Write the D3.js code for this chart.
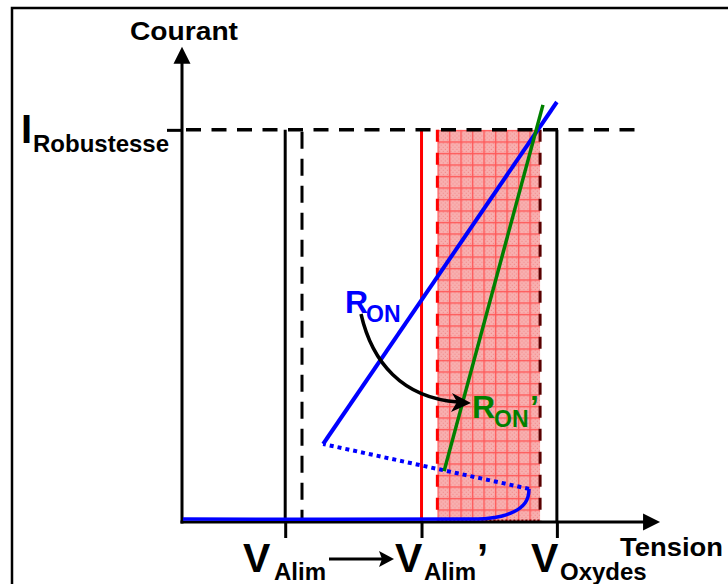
<!DOCTYPE html>
<html><head><meta charset="utf-8">
<script src="https://cdn.jsdelivr.net/npm/d3@7"></script>
<style>
html,body{margin:0;padding:0;background:#fff;}
svg{display:block;}
text{font-family:Arial,"Liberation Sans",sans-serif;font-weight:bold;}
</style>
</head><body>
<svg id="c" width="728" height="584"></svg>
<script>
// ---------- data (schematic units: 0..100) ----------
const axisTitles = ["Tension", "Courant"];
const axisMax = [99.6, 99];                       // arrow tips (tension, courant)
const levelNames  = ["VAlim", "VAlimMarge", "VAlimPrime", "ZoneMin", "ZoneMax", "VOxydes"];
const levelValues = [21.5, 25.0, 49.9, 53.2, 74.6, 78.1];
const tickNames   = ["VAlim", "VAlimPrime", "VOxydes"];
const currentNames  = ["IRobustesse"];
const currentValues = [81.7];
// R_ON characteristic (blue)
const ronV = [29.4, 78.1];
const ronI = [16.25, 87.5];
// R_ON' characteristic (green)
const ronPrimeV = [54.6, 75.2];
const ronPrimeI = [10.6, 86.9];
// snapback (dotted blue)
const snapV = [72.3, 29.4];
const snapI = [6.9, 16.25];
// leakage / breakdown curve (blue)
const leakV = [0.2, 60.0, 63.5, 66.5, 68.6, 70.4, 71.5, 72.1, 72.3];
const leakI = [0.62, 0.62, 0.75, 1.2, 1.9, 2.9, 4.0, 5.3, 6.9];
// label texts
const tickLabelMain = ["V", "V", "V"];
const tickLabelSub  = ["Alim", "Alim", "Oxydes"];
const tickLabelPrime = ["", "\u2019", ""];
const ronLabels = ["R", "ON", ""];
const ronPrimeLabels = ["R", "ON", "\u2019"];
const currentLabelMain = "I";
const currentLabelSub = "Robustesse";

// ---------- helpers ----------
const lv = n => levelValues[levelNames.indexOf(n)];
const svg = d3.select("#c");
const x = d3.scaleLinear().domain([0, 100]).range([182, 662]);
const y = d3.scaleLinear().domain([0, 100]).range([522, 42]);
const IR = currentValues[0];

// frame
svg.append("rect").attr("x", 12).attr("y", 8).attr("width", 740).attr("height", 620)
  .attr("fill", "none").attr("stroke", "#000").attr("stroke-width", 2.5);

// pattern for stressed zone
const defs = svg.append("defs");
const pat = defs.append("pattern").attr("id", "hatch").attr("patternUnits", "userSpaceOnUse")
  .attr("width", 11.5).attr("height", 11.5).attr("x", x(lv("ZoneMin"))).attr("y", y(IR));
pat.append("rect").attr("width", 11.5).attr("height", 11.5).attr("fill", "#f8b0b0");
for (let i = 0; i < 5; i++) for (let j = 0; j < 5; j++) {
  if ((i + j) % 2 === 0) pat.append("rect").attr("x", 1.5 + i * 2).attr("y", 1.5 + j * 2)
    .attr("width", 1).attr("height", 1).attr("fill", "#f08080");
}
pat.append("rect").attr("x", 0).attr("y", 0).attr("width", 11.5).attr("height", 1.4).attr("fill", "#ff5858");
pat.append("rect").attr("x", 0).attr("y", 0).attr("width", 1.4).attr("height", 11.5).attr("fill", "#ff5858");

// stressed zone
svg.append("rect")
  .attr("x", x(lv("ZoneMin"))).attr("y", y(IR))
  .attr("width", x(lv("ZoneMax")) - x(lv("ZoneMin")))
  .attr("height", y(0) - y(IR))
  .attr("fill", "url(#hatch)");
// zone edges
svg.append("line").attr("x1", x(lv("ZoneMin"))).attr("x2", x(lv("ZoneMin")))
  .attr("y1", y(IR)).attr("y2", y(0))
  .attr("stroke", "#ff0000").attr("stroke-width", 3).attr("stroke-dasharray", "12,11");
svg.append("line").attr("x1", x(lv("ZoneMax"))).attr("x2", x(lv("ZoneMax")))
  .attr("y1", y(IR)).attr("y2", y(0))
  .attr("stroke", "#5a0000").attr("stroke-width", 3).attr("stroke-dasharray", "12,11");
svg.append("line").attr("x1", x(lv("ZoneMin"))).attr("x2", x(lv("ZoneMax")))
  .attr("y1", y(0) - 1.5).attr("y2", y(0) - 1.5)
  .attr("stroke", "#8a0000").attr("stroke-width", 2).attr("stroke-dasharray", "2,2");

// vertical level lines
svg.append("line").attr("x1", x(lv("VAlim"))).attr("x2", x(lv("VAlim")))
  .attr("y1", y(IR)).attr("y2", y(0)).attr("stroke", "#000").attr("stroke-width", 3);
svg.append("line").attr("x1", x(lv("VAlimMarge"))).attr("x2", x(lv("VAlimMarge")))
  .attr("y1", y(IR) + 2).attr("y2", y(0)).attr("stroke", "#000").attr("stroke-width", 3)
  .attr("stroke-dasharray", "17,10");
svg.append("line").attr("x1", x(lv("VAlimPrime"))).attr("x2", x(lv("VAlimPrime")))
  .attr("y1", y(IR)).attr("y2", y(0)).attr("stroke", "#ff0000").attr("stroke-width", 3);
svg.append("line").attr("x1", x(lv("VOxydes"))).attr("x2", x(lv("VOxydes")))
  .attr("y1", y(IR)).attr("y2", y(0)).attr("stroke", "#000").attr("stroke-width", 3);

// I_Robustesse dashed line
svg.append("line").attr("x1", x(0)).attr("x2", 641)
  .attr("y1", y(IR)).attr("y2", y(IR)).attr("stroke", "#000").attr("stroke-width", 3.5)
  .attr("stroke-dasharray", "15,10.5").attr("stroke-dashoffset", -4);

// axes (ticks via d3-axis)
const xAxis = d3.axisBottom(x).tickValues(tickNames.map(lv)).tickSize(16).tickSizeOuter(0).tickFormat("");
const gx = svg.append("g").attr("transform", `translate(0,${y(0)})`).call(xAxis);
gx.select(".domain").remove();
gx.selectAll(".tick line").attr("stroke", "#000").attr("stroke-width", 3);
const yAxis = d3.axisLeft(y).tickValues(currentValues).tickSize(15).tickSizeOuter(0).tickFormat("");
const gy = svg.append("g").attr("transform", `translate(${x(0)},0)`).call(yAxis);
gy.select(".domain").remove();
gy.selectAll(".tick line").attr("stroke", "#000").attr("stroke-width", 3);

// axis lines + arrows
const xTip = x(axisMax[0]), yTip = y(axisMax[1]);
svg.append("line").attr("x1", x(0) - 1.5).attr("x2", xTip - 10).attr("y1", y(0)).attr("y2", y(0))
  .attr("stroke", "#000").attr("stroke-width", 3);
svg.append("path").attr("d", `M${xTip},${y(0)}L${xTip - 17},${y(0) - 8.5}L${xTip - 17},${y(0) + 8.5}Z`).attr("fill", "#000");
svg.append("line").attr("x1", x(0)).attr("x2", x(0)).attr("y1", y(0) + 1.5).attr("y2", yTip + 10)
  .attr("stroke", "#000").attr("stroke-width", 3);
svg.append("path").attr("d", `M${x(0)},${yTip}L${x(0) - 8.5},${yTip + 17}L${x(0) + 8.5},${yTip + 17}Z`).attr("fill", "#000");

// characteristics
const line = d3.line().x(d => x(d[0])).y(d => y(d[1]));
const leakLine = d3.line().x(d => x(d[0])).y(d => y(d[1])).curve(d3.curveCatmullRom.alpha(0.5));
svg.append("path").attr("d", leakLine(leakV.map((v, i) => [v, leakI[i]])))
  .attr("fill", "none").attr("stroke", "#0000ff").attr("stroke-width", 3.5);
svg.append("path").attr("d", line(snapV.map((v, i) => [v, snapI[i]])))
  .attr("fill", "none").attr("stroke", "#0000ff").attr("stroke-width", 4).attr("stroke-dasharray", "4,4");
svg.append("path").attr("d", line(ronV.map((v, i) => [v, ronI[i]])))
  .attr("fill", "none").attr("stroke", "#0000ff").attr("stroke-width", 4);
svg.append("path").attr("d", line(ronPrimeV.map((v, i) => [v, ronPrimeI[i]])))
  .attr("fill", "none").attr("stroke", "#008000").attr("stroke-width", 3.5);

// curved arrow R_ON -> R_ON'
svg.append("path").attr("d", "M361,314 C372,362 402,398 458,402")
  .attr("fill", "none").attr("stroke", "#000").attr("stroke-width", 3.5);
svg.append("path").attr("d", "M471,403 L452,393 L457,402 L451,412 Z").attr("fill", "#000");

// arrow V_Alim -> V_Alim'
svg.append("line").attr("x1", 329).attr("x2", 384).attr("y1", 559).attr("y2", 559)
  .attr("stroke", "#000").attr("stroke-width", 3);
svg.append("path").attr("d", "M394,559 L379,551 L382,559 L379,567 Z").attr("fill", "#000");

// ---------- text ----------
svg.append("text").attr("x", 184).attr("y", 40).attr("text-anchor", "middle")
  .attr("font-size", 26).attr("textLength", 108).attr("lengthAdjust", "spacingAndGlyphs").text(axisTitles[1]);
svg.append("text").attr("x", 620).attr("y", 556)
  .attr("font-size", 25).attr("textLength", 103).attr("lengthAdjust", "spacingAndGlyphs").text(axisTitles[0]);

svg.append("text").attr("x", 21).attr("y", 143).attr("font-size", 40).text(currentLabelMain);
svg.append("text").attr("x", 33).attr("y", 152).attr("font-size", 24).text(currentLabelSub);

const tickLabelLayout = [
  {vx: 243, sx: 274, px: 0},
  {vx: 395, sx: 424, px: 477},
  {vx: 531, sx: 560, px: 0}
];
tickNames.forEach((n, i) => {
  const L = tickLabelLayout[i];
  svg.append("text").attr("x", L.vx).attr("y", 572).attr("font-size", 41).text(tickLabelMain[i]);
  svg.append("text").attr("x", L.sx).attr("y", 580).attr("font-size", 24).text(tickLabelSub[i]);
  if (tickLabelPrime[i]) svg.append("text").attr("x", L.px).attr("y", 572).attr("font-size", 40).text(tickLabelPrime[i]);
});

// R_ON labels
const ronG = svg.append("g").attr("fill", "#0000ff");
ronG.append("text").attr("x", 345).attr("y", 313).attr("font-size", 32).text(ronLabels[0]);
ronG.append("text").attr("x", 366).attr("y", 322).attr("font-size", 23).text(ronLabels[1]);
const ronPG = svg.append("g").attr("fill", "#008000");
ronPG.append("text").attr("x", 472).attr("y", 418).attr("font-size", 32).text(ronPrimeLabels[0]);
ronPG.append("text").attr("x", 494).attr("y", 427).attr("font-size", 23).text(ronPrimeLabels[1]);
ronPG.append("text").attr("x", 530).attr("y", 418).attr("font-size", 32).text(ronPrimeLabels[2]);
</script>
</body></html>
